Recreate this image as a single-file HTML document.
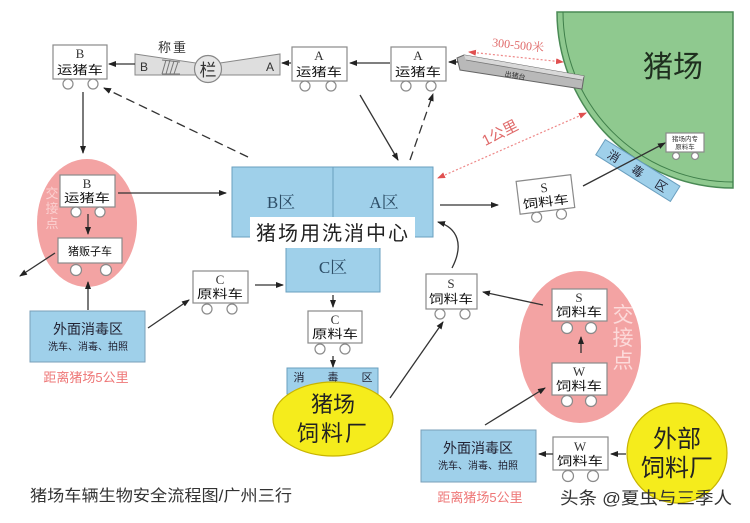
<!DOCTYPE html>
<html><head><meta charset="utf-8">
<style>
html,body{margin:0;padding:0;background:#fff;}
svg{display:block;}
text{font-family:"Liberation Sans","Noto Sans CJK SC",sans-serif;}
.ser{font-family:"Liberation Serif","Noto Serif CJK SC",serif;}
.box{fill:#fff;stroke:#8a8a8a;stroke-width:1.2;}
.wh{fill:#fff;stroke:#8a8a8a;stroke-width:1.2;}
.ln{stroke:#333;stroke-width:1.3;fill:none;}
.lt{font-size:13px;fill:#333;text-anchor:middle;}
.lb{font-size:12px;fill:#111;text-anchor:middle;}
</style></head>
<body>
<svg width="750" height="523" viewBox="0 0 750 523" xmlns="http://www.w3.org/2000/svg">
<defs>
<marker id="ar" markerWidth="8" markerHeight="6" refX="7" refY="3" orient="auto" markerUnits="userSpaceOnUse">
<path d="M0,0 L8,3 L0,6 Z" fill="#222"/></marker>
<marker id="rr" markerWidth="8" markerHeight="6" refX="7" refY="3" orient="auto" markerUnits="userSpaceOnUse">
<path d="M0,0 L8,3 L0,6 Z" fill="#e05050"/></marker>
<marker id="rs" markerWidth="8" markerHeight="6" refX="1" refY="3" orient="auto" markerUnits="userSpaceOnUse">
<path d="M8,0 L0,3 L8,6 Z" fill="#e05050"/></marker>
</defs>

<!-- Pig farm -->
<path d="M733,12 L557,12 A176,176 0 0 0 733,188 Z" fill="#8fc98f" stroke="#4a8a55" stroke-width="1.5"/>
<path d="M563,12 A170,170 0 0 0 733,182" fill="none" stroke="#3f7f4a" stroke-width="1"/>
<text x="673" y="77" font-size="30" text-anchor="middle" fill="#1f2f1f">猪场</text>

<!-- inner car -->
<rect x="666" y="133" width="38" height="19" class="box"/>
<text x="685" y="141" font-size="6.5" text-anchor="middle" fill="#333">猪场内专</text>
<text x="685" y="149" font-size="6.5" text-anchor="middle" fill="#333">原料车</text>
<circle cx="676" cy="156" r="3.5" class="wh"/><circle cx="695" cy="156" r="3.5" class="wh"/>

<!-- farm disinfection strip -->
<g transform="rotate(32 637 170)">
<rect x="594" y="161" width="88" height="18" fill="#9fd0ea" stroke="#6a9fbf"/>
<text x="610" y="175" font-size="12" text-anchor="middle" fill="#223">消</text>
<text x="638" y="175" font-size="12" text-anchor="middle" fill="#223">毒</text>
<text x="666" y="175" font-size="12" text-anchor="middle" fill="#223">区</text>
</g>

<!-- chute -->
<polygon points="457,58 464,55 584,76 582,89 460,70" fill="#b9b9b9" stroke="#666" stroke-width="1"/>
<polygon points="464,55 584,76 582,80 466,60" fill="#d8d8d8"/>
<line x1="466" y1="60" x2="582" y2="80" stroke="#777" stroke-width="0.8"/>
<text x="515" y="78" font-size="7" fill="#333" text-anchor="middle" transform="rotate(10 515 76)">出猪台</text>

<!-- red distance arrows -->
<line x1="469" y1="52" x2="563" y2="62" stroke="#e88" stroke-width="1.2" stroke-dasharray="2 2" marker-start="url(#rs)" marker-end="url(#rr)"/>
<text x="518" y="49" font-size="12" fill="#e06a6a" text-anchor="middle" transform="rotate(6 518 46)" class="ser">300-500米</text>
<line x1="586" y1="113" x2="438" y2="178" stroke="#e88" stroke-width="1.2" stroke-dasharray="2 2" marker-start="url(#rs)" marker-end="url(#rr)"/>
<text x="500" y="138" font-size="15" fill="#e06a6a" text-anchor="middle" transform="rotate(-27 500 133)">1公里</text>

<!-- weighbridge -->
<polygon points="135,54 196,63 196,75 135,75" fill="#dedede" stroke="#888" stroke-width="1"/>
<polygon points="220,63 280,54 280,75 220,75" fill="#dedede" stroke="#888" stroke-width="1"/>
<text x="144" y="71" font-size="12" fill="#333" text-anchor="middle">B</text>
<text x="270" y="71" font-size="12" fill="#333" text-anchor="middle">A</text>
<g stroke="#777" stroke-width="1">
<line x1="162" y1="74" x2="166" y2="60"/><line x1="166" y1="74" x2="170" y2="60"/><line x1="170" y1="74" x2="174" y2="61"/><line x1="174" y1="74" x2="178" y2="62"/>
<line x1="162" y1="60" x2="180" y2="62"/><line x1="162" y1="74" x2="180" y2="74"/>
</g>
<circle cx="208" cy="69" r="13.5" fill="#e6e6e6" stroke="#888" stroke-width="1.2"/>
<text x="208" y="76" font-size="17" fill="#333" text-anchor="middle">栏</text>
<text x="173" y="52" font-size="13" fill="#333" text-anchor="middle" letter-spacing="2">称重</text>

<!-- main wash center -->
<rect x="232" y="167" width="201" height="70" fill="#9fd0ea" stroke="#6a9fbf" stroke-width="1"/>
<line x1="333" y1="167" x2="333" y2="217" stroke="#6a9fbf"/>
<rect x="286" y="237" width="94" height="55" fill="#9fd0ea" stroke="#6a9fbf" stroke-width="1"/>
<text x="281" y="208" font-size="17" fill="#2d4d66" text-anchor="middle" class="ser">B区</text>
<text x="384" y="208" font-size="17" fill="#2d4d66" text-anchor="middle" class="ser">A区</text>
<rect x="250" y="217" width="165" height="31" fill="#fff"/>
<text x="333" y="240" font-size="20" fill="#222" text-anchor="middle" letter-spacing="2">猪场用洗消中心</text>
<text x="333" y="273" font-size="17" fill="#2d4d66" text-anchor="middle" class="ser">C区</text>

<!-- left pink ellipse -->
<ellipse cx="87" cy="223" rx="50" ry="64" fill="#f3a3a3"/>
<text x="52" y="198" font-size="13" fill="#fbd0d0" text-anchor="middle">交</text>
<text x="52" y="213" font-size="13" fill="#fbd0d0" text-anchor="middle">接</text>
<text x="52" y="228" font-size="13" fill="#fbd0d0" text-anchor="middle">点</text>

<!-- right pink ellipse -->
<ellipse cx="580" cy="347" rx="61" ry="76" fill="#f3a3a3"/>
<text x="623" y="322" font-size="21" fill="#fcdada" text-anchor="middle">交</text>
<text x="623" y="345" font-size="21" fill="#fcdada" text-anchor="middle">接</text>
<text x="623" y="368" font-size="21" fill="#fcdada" text-anchor="middle">点</text>

<!-- cars -->
<rect x="53" y="45" width="54" height="34" class="box"/>
<text x="80" y="58" class="lt ser">B</text>
<text x="80" y="74" class="lb" textLength="46" lengthAdjust="spacingAndGlyphs">运猪车</text>
<circle cx="68" cy="84" r="5" class="wh"/><circle cx="93" cy="84" r="5" class="wh"/>

<rect x="292" y="47" width="55" height="34" class="box"/>
<text x="319" y="60" class="lt ser">A</text>
<text x="319" y="76" class="lb" textLength="46" lengthAdjust="spacingAndGlyphs">运猪车</text>
<circle cx="305" cy="86" r="5" class="wh"/><circle cx="331" cy="86" r="5" class="wh"/>

<rect x="391" y="47" width="55" height="34" class="box"/>
<text x="418" y="60" class="lt ser">A</text>
<text x="418" y="76" class="lb" textLength="46" lengthAdjust="spacingAndGlyphs">运猪车</text>
<circle cx="406" cy="86" r="5" class="wh"/><circle cx="431" cy="86" r="5" class="wh"/>

<rect x="60" y="175" width="55" height="32" class="box"/>
<text x="87" y="188" class="lt ser">B</text>
<text x="87" y="202" class="lb" textLength="46" lengthAdjust="spacingAndGlyphs">运猪车</text>
<circle cx="76" cy="212" r="5" class="wh"/><circle cx="100" cy="212" r="5" class="wh"/>

<rect x="58" y="238" width="64" height="25" class="box"/>
<text x="90" y="255" font-size="11" fill="#111" text-anchor="middle">猪贩子车</text>
<circle cx="76" cy="270" r="5.5" class="wh"/><circle cx="106" cy="270" r="5.5" class="wh"/>

<rect x="193" y="271" width="55" height="32" class="box"/>
<text x="220" y="284" class="lt ser">C</text>
<text x="220" y="298" class="lb" textLength="46" lengthAdjust="spacingAndGlyphs">原料车</text>
<circle cx="207" cy="309" r="5" class="wh"/><circle cx="232" cy="309" r="5" class="wh"/>

<rect x="308" y="311" width="54" height="32" class="box"/>
<text x="335" y="324" class="lt ser">C</text>
<text x="335" y="338" class="lb" textLength="46" lengthAdjust="spacingAndGlyphs">原料车</text>
<circle cx="320" cy="349" r="5" class="wh"/><circle cx="345" cy="349" r="5" class="wh"/>

<rect x="426" y="274" width="51" height="35" class="box"/>
<text x="451" y="288" class="lt ser">S</text>
<text x="451" y="303" class="lb" textLength="44" lengthAdjust="spacingAndGlyphs">饲料车</text>
<circle cx="440" cy="314" r="5" class="wh"/><circle cx="465" cy="314" r="5" class="wh"/>

<g transform="rotate(-7 545 195)">
<rect x="518" y="178" width="55" height="33" class="box"/>
<text x="545" y="192" class="lt ser">S</text>
<text x="545" y="206" class="lb" textLength="46" lengthAdjust="spacingAndGlyphs">饲料车</text>
<circle cx="534" cy="216" r="5" class="wh"/><circle cx="559" cy="216" r="5" class="wh"/>
</g>

<rect x="552" y="289" width="55" height="32" class="box"/>
<text x="579" y="302" class="lt ser">S</text>
<text x="579" y="316" class="lb" textLength="46" lengthAdjust="spacingAndGlyphs">饲料车</text>
<circle cx="567" cy="328" r="5.5" class="wh"/><circle cx="591" cy="328" r="5.5" class="wh"/>

<rect x="552" y="363" width="55" height="32" class="box"/>
<text x="579" y="376" class="lt ser">W</text>
<text x="579" y="390" class="lb" textLength="46" lengthAdjust="spacingAndGlyphs">饲料车</text>
<circle cx="567" cy="401" r="5.5" class="wh"/><circle cx="591" cy="401" r="5.5" class="wh"/>

<rect x="553" y="437" width="55" height="33" class="box"/>
<text x="580" y="451" class="lt ser">W</text>
<text x="580" y="465" class="lb" textLength="46" lengthAdjust="spacingAndGlyphs">饲料车</text>
<circle cx="568" cy="476" r="5.5" class="wh"/><circle cx="593" cy="476" r="5.5" class="wh"/>

<!-- outer disinfection left -->
<rect x="30" y="311" width="115" height="51" fill="#9fd0ea" stroke="#7a9fb8" stroke-width="1"/>
<text x="88" y="334" font-size="14" fill="#223" text-anchor="middle">外面消毒区</text>
<text x="88" y="350" font-size="10" fill="#223" text-anchor="middle">洗车、消毒、拍照</text>
<text x="86" y="382" font-size="13" fill="#e77" text-anchor="middle">距离猪场5公里</text>
<!-- outer disinfection right -->
<rect x="421" y="430" width="115" height="52" fill="#9fd0ea" stroke="#7a9fb8" stroke-width="1"/>
<text x="478" y="453" font-size="14" fill="#223" text-anchor="middle">外面消毒区</text>
<text x="478" y="469" font-size="10" fill="#223" text-anchor="middle">洗车、消毒、拍照</text>
<text x="480" y="502" font-size="13" fill="#e77" text-anchor="middle">距离猪场5公里</text>

<!-- feed mill -->
<rect x="287" y="368" width="91" height="26" fill="#9fd0ea" stroke="#6a9fbf"/>
<text x="299" y="381" font-size="11" fill="#223" text-anchor="middle">消</text>
<text x="333" y="381" font-size="11" fill="#223" text-anchor="middle">毒</text>
<text x="367" y="381" font-size="11" fill="#223" text-anchor="middle">区</text>
<ellipse cx="333" cy="419" rx="60" ry="37" fill="#f5ec1c" stroke="#c8b400" stroke-width="1.2"/>
<text x="333" y="412" font-size="22" fill="#222" text-anchor="middle">猪场</text>
<text x="333" y="441" font-size="22" fill="#222" text-anchor="middle" letter-spacing="2">饲料厂</text>

<circle cx="677" cy="453" r="50" fill="#f5ec1c" stroke="#c8b400" stroke-width="1.2"/>
<text x="677" y="447" font-size="24" fill="#222" text-anchor="middle">外部</text>
<text x="677" y="476" font-size="24" fill="#222" text-anchor="middle">饲料厂</text>

<!-- arrows -->
<g class="ln">
<line x1="135" y1="64" x2="109" y2="64" marker-end="url(#ar)"/>
<line x1="291" y1="63" x2="282" y2="63" marker-end="url(#ar)"/>
<line x1="390" y1="63" x2="350" y2="63" marker-end="url(#ar)"/>
<line x1="458" y1="62" x2="449" y2="62" marker-end="url(#ar)"/>
<line x1="248" y1="157" x2="104" y2="88" stroke-dasharray="9 5" marker-end="url(#ar)"/>
<line x1="83" y1="92" x2="83" y2="153" marker-end="url(#ar)"/>
<line x1="360" y1="95" x2="398" y2="160" marker-end="url(#ar)"/>
<line x1="410" y1="160" x2="433" y2="94" stroke-dasharray="9 5" marker-end="url(#ar)"/>
<line x1="118" y1="193" x2="226" y2="193" marker-end="url(#ar)"/>
<line x1="88" y1="214" x2="88" y2="234" marker-end="url(#ar)"/>
<line x1="55" y1="253" x2="20" y2="276" marker-end="url(#ar)"/>
<line x1="88" y1="310" x2="88" y2="282" marker-end="url(#ar)"/>
<line x1="148" y1="328" x2="189" y2="300" marker-end="url(#ar)"/>
<line x1="255" y1="285" x2="283" y2="285" marker-end="url(#ar)"/>
<line x1="333" y1="295" x2="333" y2="307" marker-end="url(#ar)"/>
<line x1="333" y1="356" x2="333" y2="367" marker-end="url(#ar)"/>
<line x1="390" y1="398" x2="443" y2="322" marker-end="url(#ar)"/>
<path d="M452,268 C464,245 458,228 438,222" marker-end="url(#ar)"/>
<line x1="440" y1="205" x2="498" y2="205" marker-end="url(#ar)"/>
<line x1="583" y1="186" x2="665" y2="143" marker-end="url(#ar)"/>
<line x1="543" y1="305" x2="483" y2="292" marker-end="url(#ar)"/>
<line x1="581" y1="353" x2="581" y2="337" marker-end="url(#ar)"/>
<line x1="485" y1="425" x2="545" y2="388" marker-end="url(#ar)"/>
<line x1="553" y1="454" x2="539" y2="454" marker-end="url(#ar)"/>
<line x1="626" y1="454" x2="611" y2="454" marker-end="url(#ar)"/>
</g>

<!-- captions -->
<text x="30" y="501" font-size="16" fill="#333" textLength="262" lengthAdjust="spacingAndGlyphs">猪场车辆生物安全流程图/广州三行</text>
<text x="560" y="504" font-size="17" fill="#333" textLength="172" lengthAdjust="spacingAndGlyphs">头条 @夏虫与三季人</text>
</svg>
</body></html>
